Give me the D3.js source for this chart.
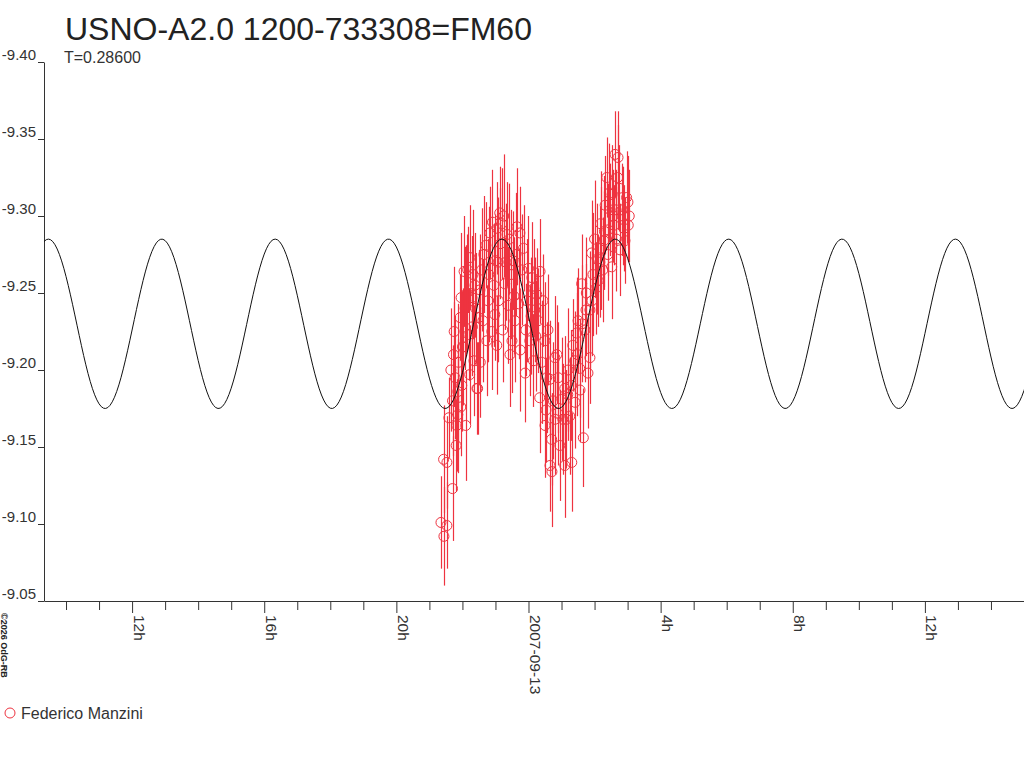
<!DOCTYPE html>
<html>
<head>
<meta charset="utf-8">
<script src="https://cdn.jsdelivr.net/npm/d3@7"></script>
<style>
  body { margin: 0; background: #fff; }
  svg { display: block; font-family: "Liberation Sans", Arial, sans-serif; }
</style>
</head>
<body>
<svg width="1024" height="768"></svg>
<script>
// observations: hours from 2007-09-13 00:00 UT, magnitude, error
const obsHours = [
  -2.65,-2.56,-2.47,-2.57,-2.47,-2.30,-2.19,-2.41,-2.14,-2.17,
  -1.90,-2.05,-1.54,-2.27,-2.22,-1.97,-2.07,-2.04,-1.95,-1.77,
  -1.71,-1.51,-1.70,-1.46,-1.56,-1.11,-1.17,-1.09,-0.87,-0.81,
  -0.35,-0.26,-0.15,0.00,0.10,-0.25,0.15,-0.10,-0.50,-0.91,
  -0.30,-0.72,0.16,-1.84,-1.62,-1.38,-1.26,-1.02,-0.96,-1.29,
  -0.95,-0.65,-0.47,-1.00,-1.47,-1.23,-1.90,-1.81,-2.14,-2.02,
  -1.78,-1.65,-0.62,-0.78,-0.41,-0.08,-0.56,0.25,0.35,0.34,
  0.50,0.70,0.95,0.65,1.10,1.31,0.71,0.80,0.90,0.50,
  0.29,0.59,0.65,0.44,0.53,0.80,1.01,1.15,1.25,1.41,
  1.66,1.56,1.34,1.46,1.55,1.80,1.86,1.71,1.86,1.61,
  1.92,2.04,1.91,2.21,2.16,2.28,2.41,2.52,2.37,2.62,
  2.71,2.70,3.01,3.02,2.53,2.83,2.92,2.77,2.59,2.11,
  1.74,1.50,1.40,1.19,1.04,2.32,2.47,2.65,2.89,2.25,
  2.40,0.19,0.04,0.86,1.10,-2.35,-2.30,-2.25,-2.12,-2.00,
  -1.92,-1.86,-1.68,-1.60,-1.42,-1.35,-1.20,-1.05,-0.92,-0.85,
  -0.75,-0.68,-0.58,-0.52,-0.44,-0.38,-0.20,-0.05,0.08,0.22,
  0.40,0.55,0.75,0.88,1.20,1.30,1.48,1.62,1.75,1.95,
  2.00,2.08,2.18,2.30,2.45,2.56,2.66,2.75,2.86,2.97,
  3.05
];
const obsMag = [
  -9.101,-9.092,-9.099,-9.142,-9.140,-9.123,-9.151,-9.169,-9.171,-9.164,
  -9.164,-9.176,-9.188,-9.210,-9.195,-9.215,-9.234,-9.247,-9.264,-9.273,
  -9.247,-9.234,-9.228,-9.205,-9.188,-9.225,-9.289,-9.296,-9.302,-9.295,
  -9.293,-9.289,-9.279,-9.266,-9.260,-9.213,-9.206,-9.198,-9.219,-9.245,
  -9.243,-9.256,-9.253,-9.265,-9.255,-9.232,-9.219,-9.236,-9.216,-9.281,
  -9.292,-9.288,-9.271,-9.271,-9.252,-9.245,-9.245,-9.223,-9.186,-9.190,
  -9.197,-9.206,-9.242,-9.226,-9.232,-9.226,-9.210,-9.249,-9.264,-9.182,
  -9.164,-9.155,-9.151,-9.138,-9.138,-9.140,-9.134,-9.208,-9.195,-9.219,
  -9.232,-9.226,-9.194,-9.245,-9.174,-9.168,-9.181,-9.168,-9.170,-9.179,
  -9.156,-9.187,-9.216,-9.224,-9.201,-9.198,-9.208,-9.226,-9.239,-9.256,
  -9.245,-9.253,-9.276,-9.279,-9.270,-9.284,-9.291,-9.267,-9.325,-9.340,
  -9.338,-9.325,-9.309,-9.294,-9.314,-9.304,-9.284,-9.278,-9.294,-9.258,
  -9.239,-9.232,-9.206,-9.184,-9.168,-9.307,-9.304,-9.304,-9.292,-9.265,
  -9.275,-9.239,-9.219,-9.210,-9.188,-9.200,-9.180,-9.225,-9.205,-9.215,
  -9.240,-9.250,-9.262,-9.240,-9.265,-9.275,-9.262,-9.255,-9.270,-9.282,
  -9.300,-9.270,-9.285,-9.262,-9.248,-9.275,-9.265,-9.245,-9.235,-9.222,
  -9.205,-9.195,-9.180,-9.172,-9.200,-9.190,-9.210,-9.230,-9.250,-9.262,
  -9.285,-9.272,-9.295,-9.290,-9.315,-9.300,-9.285,-9.318,-9.300,-9.312,
  -9.300
];
const obsErr = [
  0.030,0.032,0.028,0.035,0.030,0.034,0.030,0.026,0.038,0.030,
  0.036,0.032,0.030,0.034,0.040,0.038,0.028,0.042,0.036,0.034,
  0.040,0.044,0.032,0.036,0.030,0.038,0.030,0.034,0.030,0.036,
  0.038,0.030,0.028,0.034,0.036,0.040,0.030,0.032,0.034,0.040,
  0.036,0.030,0.032,0.028,0.034,0.040,0.036,0.030,0.032,0.028,
  0.030,0.034,0.032,0.030,0.036,0.040,0.036,0.030,0.034,0.030,
  0.032,0.036,0.038,0.034,0.040,0.030,0.034,0.030,0.034,0.036,
  0.034,0.030,0.036,0.030,0.034,0.032,0.036,0.040,0.036,0.038,
  0.034,0.036,0.038,0.030,0.034,0.036,0.040,0.032,0.038,0.030,
  0.032,0.034,0.030,0.036,0.032,0.036,0.030,0.034,0.038,0.032,
  0.036,0.030,0.034,0.040,0.036,0.032,0.030,0.034,0.026,0.028,
  0.030,0.034,0.030,0.024,0.032,0.030,0.028,0.030,0.026,0.030,
  0.030,0.034,0.032,0.030,0.036,0.032,0.030,0.026,0.028,0.034,
  0.030,0.034,0.036,0.032,0.034,0.040,0.036,0.042,0.038,0.036,
  0.040,0.038,0.042,0.036,0.040,0.038,0.044,0.040,0.042,0.036,
  0.040,0.038,0.036,0.042,0.038,0.040,0.036,0.040,0.038,0.036,
  0.040,0.036,0.038,0.034,0.040,0.036,0.040,0.038,0.036,0.040,
  0.038,0.036,0.034,0.036,0.032,0.030,0.034,0.028,0.032,0.030,
  0.030
];

// fitted light curve (double wave, period T days)
const period = 0.286;
const meanMag = -9.23;
const amplitude = 0.055;
const maxHour = -0.806; // a maximum, hours from 2007-09-13 00:00 UT

const yTicks = [-9.40, -9.35, -9.30, -9.25, -9.20, -9.15, -9.10, -9.05];
const title = "USNO-A2.0 1200-733308=FM60";
const observer = "Federico Manzini";

const red = "#ee3340";
const ink = "#333";

const base = Date.UTC(2007, 8, 13);
const hourMs = 3600e3;
const toDate = (h) => new Date(base + h * hourMs);

const svg = d3.select("svg");

const x = d3.scaleUtc()
    .domain([new Date("2007-09-12T09:20:00Z"), new Date("2007-09-13T15:00:00Z")])
    .range([44, 1024]);
const y = d3.scaleLinear()
    .domain([-9.40, -9.05])
    .range([62, 601]);

const obs = obsHours.map((h, i) => ({ t: toDate(h), mag: obsMag[i], err: obsErr[i] }));

// title + period
svg.append("text")
    .attr("x", 65).attr("y", 40)
    .style("font-size", "32px").style("fill", "#222")
    .text(title);
svg.append("text")
    .attr("x", 64).attr("y", 63)
    .style("font-size", "16px").style("fill", ink)
    .text("T=" + period.toFixed(5));

// y axis
const yAxis = svg.append("g")
    .attr("transform", "translate(44,0)")
    .call(d3.axisLeft(y).tickValues(yTicks).tickSize(6).tickSizeOuter(0)
        .tickFormat((v) => v.toFixed(2)));
yAxis.select(".domain").attr("stroke", ink);
yAxis.selectAll(".tick line").attr("stroke", ink);
yAxis.selectAll(".tick text")
    .attr("x", -8).attr("dy", "-3px")
    .style("font-size", "15px").style("fill", ink)
    .style("font-family", "'Liberation Sans', Arial, sans-serif");

// x axis
const hours = d3.utcHour.range(x.domain()[0], x.domain()[1]);
const isMajor = (d) => d.getUTCHours() % 4 === 0;
const xAxis = svg.append("g")
    .attr("transform", "translate(0,601)")
    .call(d3.axisBottom(x).tickValues(hours).tickSize(9).tickSizeOuter(0)
        .tickFormat((d) => {
            if (!isMajor(d)) return "";
            const hr = d.getUTCHours();
            return hr === 0 ? d3.utcFormat("%Y-%m-%d")(d) : hr + "h";
        }));
xAxis.select(".domain").attr("stroke", ink);
xAxis.selectAll(".tick line")
    .attr("stroke", ink)
    .attr("y2", (d) => isMajor(d) ? 12 : 9);
xAxis.selectAll(".tick text")
    .attr("transform", "rotate(90)")
    .attr("x", 14).attr("y", -1).attr("dy", null)
    .attr("text-anchor", "start")
    .style("font-size", "15.5px").style("fill", ink)
    .style("font-family", "'Liberation Sans', Arial, sans-serif");

// error bars
svg.append("g")
    .selectAll("line")
    .data(obs)
    .enter()
    .append("line")
    .attr("x1", (d) => Math.round(x(d.t)) + 0.5)
    .attr("x2", (d) => Math.round(x(d.t)) + 0.5)
    .attr("y1", (d) => y(d.mag - d.err))
    .attr("y2", (d) => y(d.mag + d.err))
    .attr("stroke", red)
    .attr("stroke-width", 1.2);

// points
svg.append("g")
    .selectAll("circle")
    .data(obs)
    .enter()
    .append("circle")
    .attr("cx", (d) => x(d.t))
    .attr("cy", (d) => y(d.mag))
    .attr("r", 5)
    .attr("fill", "none")
    .attr("stroke", red)
    .attr("stroke-width", 1);

// model curve
const [t0, t1] = x.domain();
const curveTimes = d3.utcMinute.every(4).range(t0, new Date(+t1 + 5 * 60e3));
const model = (t) => {
    const h = (t - base) / hourMs;
    return meanMag - amplitude * Math.cos(4 * Math.PI * (h - maxHour) / (period * 24));
};
svg.append("path")
    .datum(curveTimes)
    .attr("fill", "none")
    .attr("stroke", "#111")
    .attr("stroke-width", 1)
    .attr("d", d3.line().x((t) => x(t)).y((t) => y(model(t))));

// legend
svg.append("circle")
    .attr("cx", 10).attr("cy", 713).attr("r", 5)
    .attr("fill", "none").attr("stroke", red);
svg.append("text")
    .attr("x", 21).attr("y", 719)
    .style("font-size", "16px").style("fill", ink)
    .text(observer);

// credit
svg.append("text")
    .attr("transform", "translate(1,613) rotate(90)")
    .style("font-size", "9px").style("font-weight", "bold").style("fill", "#222")
    .text("©2026 OdG-RB");
</script>
</body>
</html>
